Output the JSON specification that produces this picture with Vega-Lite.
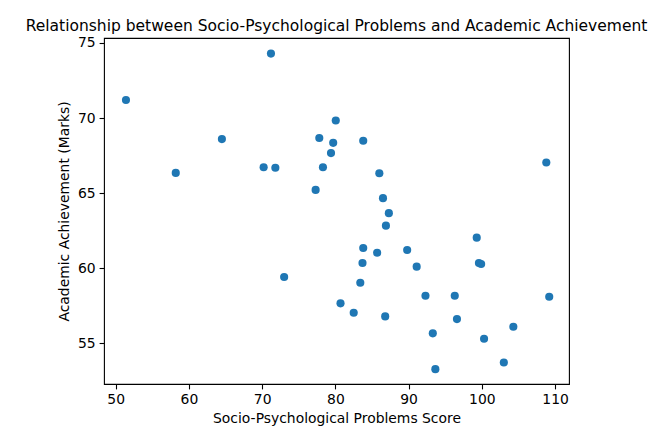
{
  "$schema": "https://vega.github.io/schema/vega-lite/v6.json",
  "width": 465,
  "height": 346,
  "autosize": "none",
  "padding": {"left": 104, "top": 38, "right": 96, "bottom": 43},
  "background": "white",
  "title": {
    "text": "Relationship between Socio-Psychological Problems and Academic Achievement",
    "font": "DejaVu Sans",
    "fontSize": 15.5,
    "fontWeight": "normal",
    "color": "black",
    "anchor": "middle",
    "baseline": "bottom",
    "offset": 5,
    "dy": 19
  },
  "data": {
    "values": [
      {"score": 51.4, "marks": 71.2},
      {"score": 71.2, "marks": 74.29},
      {"score": 58.2, "marks": 66.35},
      {"score": 64.5, "marks": 68.6},
      {"score": 70.2, "marks": 66.73},
      {"score": 71.8, "marks": 66.69},
      {"score": 77.3, "marks": 65.22},
      {"score": 77.8, "marks": 68.67},
      {"score": 78.3, "marks": 66.73},
      {"score": 79.4, "marks": 67.67},
      {"score": 79.7, "marks": 68.35},
      {"score": 80.05, "marks": 69.84},
      {"score": 83.8, "marks": 68.49},
      {"score": 86.0, "marks": 66.33},
      {"score": 86.5, "marks": 64.67},
      {"score": 108.8, "marks": 67.04},
      {"score": 87.3, "marks": 63.67},
      {"score": 86.9, "marks": 62.84},
      {"score": 99.3, "marks": 62.04},
      {"score": 83.8, "marks": 61.35},
      {"score": 85.7, "marks": 61.04},
      {"score": 89.8, "marks": 61.22},
      {"score": 83.7, "marks": 60.35},
      {"score": 99.6, "marks": 60.35},
      {"score": 99.9, "marks": 60.29},
      {"score": 91.1, "marks": 60.11},
      {"score": 83.4, "marks": 59.04},
      {"score": 92.3, "marks": 58.17},
      {"score": 96.3, "marks": 58.17},
      {"score": 109.2, "marks": 58.11},
      {"score": 80.7, "marks": 57.67},
      {"score": 82.5, "marks": 57.04},
      {"score": 86.8, "marks": 56.8},
      {"score": 96.6, "marks": 56.62},
      {"score": 104.3, "marks": 56.11},
      {"score": 93.3, "marks": 55.67},
      {"score": 100.3, "marks": 55.31},
      {"score": 103.0, "marks": 53.73},
      {"score": 93.65, "marks": 53.29},
      {"score": 73.0, "marks": 59.42}
    ]
  },
  "mark": {"type": "point", "filled": true, "opacity": 1, "size": 66, "color": "#1f77b4", "shape": "circle"},
  "encoding": {
    "x": {
      "field": "score",
      "type": "quantitative",
      "scale": {"domain": [48.4, 111.9], "nice": false, "zero": false},
      "axis": {
        "title": "Socio-Psychological Problems Score",
        "values": [50, 60, 70, 80, 90, 100, 110],
        "titlePadding": 5
      }
    },
    "y": {
      "field": "marks",
      "type": "quantitative",
      "scale": {"domain": [52.3, 75.33], "nice": false, "zero": false},
      "axis": {
        "title": "Academic Achievement (Marks)",
        "values": [55, 60, 65, 70, 75],
        "titlePadding": 6
      }
    }
  },
  "config": {
    "view": {"stroke": "black", "strokeWidth": 1.1},
    "axis": {
      "grid": false,
      "domain": false,
      "tickColor": "black",
      "tickSize": 4.9,
      "tickWidth": 1.1,
      "labelPadding": 4,
      "labelFont": "DejaVu Sans",
      "labelFontSize": 13.9,
      "labelColor": "black",
      "titleFont": "DejaVu Sans",
      "titleFontSize": 13.9,
      "titleFontWeight": "normal",
      "titleColor": "black",
      "labelFlush": false,
      "labelOverlap": false
    }
  }
}
